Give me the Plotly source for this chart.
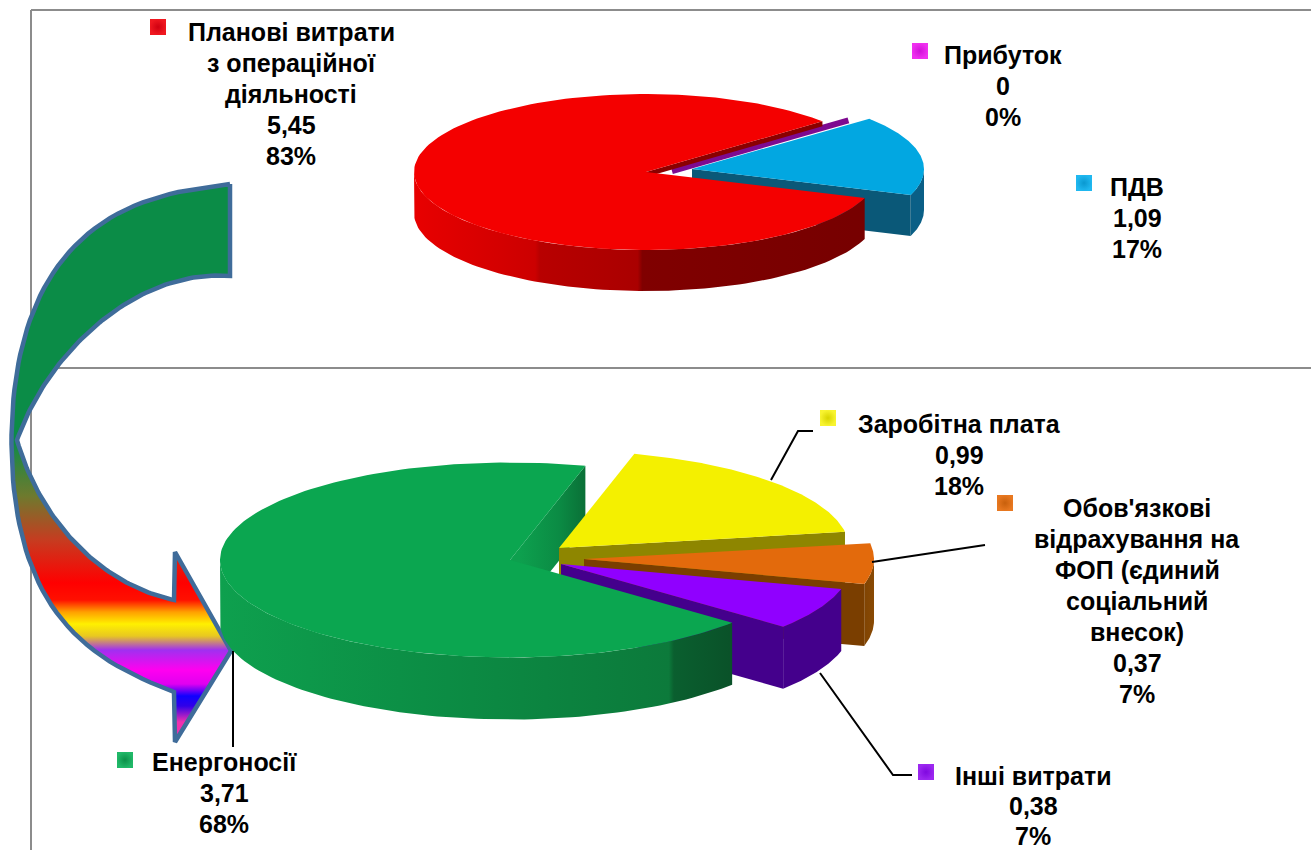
import numpy as np
import plotly.graph_objects as go

# Upper pie: structure of the tariff
top_names = ["Планові витрати<br>з операційної<br>діяльності", "Прибуток", "ПДВ"]
top_values = [5.45, 0, 1.09]

# Lower pie: structure of operating costs
low_names = ["Енергоносії", "Заробітна плата",
             "Обов'язкові<br>відрахування на<br>ФОП (єдиний<br>соціальний<br>внесок)",
             "Інші витрати"]
low_values = [3.71, 0.99, 0.37, 0.38]

WIDTH, HEIGHT = 1311, 850
FONT = "Liberation Sans"

fig = go.Figure()


def ellipse_point(c, rx, ry, deg):
    t = np.radians(deg)
    return c[0] + rx * np.cos(t), c[1] - ry * np.sin(t)


def arc(c, rx, ry, a, b, n=90):
    t = np.radians(np.linspace(a, b, n))
    return c[0] + rx * np.cos(t), c[1] - ry * np.sin(t)


def polygon(xs, ys, color=None, gradient=None, line=None):
    kw = dict(x=list(xs), y=list(ys), mode="lines", fill="toself",
              hoverinfo="skip", showlegend=False,
              line=line or dict(width=0, color="rgba(0,0,0,0)"))
    if gradient:
        kw["fillgradient"] = gradient
    else:
        kw["fillcolor"] = color
    fig.add_trace(go.Scatter(**kw))


def hgrad(x0, x1, stops):
    return dict(type="horizontal", start=x0, stop=x1, colorscale=stops)


def sweeps(values, start):
    """Clockwise (start, end) angles of each slice, with the start kept within (-180, 180]."""
    total = sum(values)
    out, a = [], start
    for v in values:
        b = a - v / total * 360
        shift = 360 if a <= -180 else 0
        out.append((a + shift, b + shift))
        a = b
    return out


def rim(c, rx, ry, depth, a, b, color=None, gradient=None):
    """Outer wall of a slice, limited to the part facing the viewer."""
    hi, lo = min(a, 0), max(b, -180)
    if hi <= lo:
        return
    xs, ys = arc(c, rx, ry, hi, lo)
    polygon(np.r_[xs, xs[::-1]], np.r_[ys, ys[::-1] + depth], color, gradient)


def cut_face(c, rx, ry, depth, angle, color=None, gradient=None):
    """Flat radial wall of a slice."""
    px, py = ellipse_point(c, rx, ry, angle)
    polygon([c[0], px, px, c[0]], [c[1], py, py + depth, c[1] + depth], color, gradient)


def top_face(c, rx, ry, a, b, color):
    xs, ys = arc(c, rx, ry, a, b, 160)
    polygon(np.r_[c[0], xs, c[0]], np.r_[c[1], ys, c[1]], color)


def smooth(points, degree=5, n=80):
    """Smooth polynomial curve through a run of guide points, parametrised by chord length."""
    p = np.array(points, float)
    s = np.r_[0, np.cumsum(np.hypot(*np.diff(p, axis=0).T))]
    s /= s[-1]
    deg = min(degree, len(p) - 1)
    weights = np.ones(len(p))
    weights[[0, -1]] = 8  # hold the ends on their guide points
    t = np.linspace(0, 1, n)
    return np.c_[np.polyval(np.polyfit(s, p[:, 0], deg, w=weights), t),
                 np.polyval(np.polyfit(s, p[:, 1], deg, w=weights), t)]


# Curved arrow linking the two pies
outer_curve = [(230, 184), (167, 194), (117, 216), (67, 253), (35, 305), (18, 366), (13, 440), (15, 500),
               (28, 561), (57, 613), (100, 653), (140, 679), (174, 692)]
inner_low = [(174, 600), (127, 583), (83, 550), (50, 513), (30, 474), (17, 440)]
inner_up = [(17, 440), (27, 413), (53, 374), (97, 324), (143, 294), (187, 279), (230, 276)]
head = [(174, 692), (175, 742), (231, 651), (175, 552), (174, 600)]
outline = np.vstack([smooth(outer_curve, 7), np.array(head[1:4], float),
                     smooth(inner_low, 3), smooth(inner_up, 4), [outer_curve[0]]])
y0, y1 = 183.0, 742.0
band = [(183, "#0B8C47"), (440, "#0B8C47"), (496, "#6E7A2E"), (540, "#C63C20"), (583, "#FF0000"),
        (600, "#FF1000"), (612, "#FFA000"), (624, "#FFF000"), (636, "#E8C820"), (650, "#A030F0"),
        (670, "#FF00F0"), (684, "#E000F0"), (696, "#1000FF"), (706, "#3000E8"), (722, "#F030B0"),
        (742, "#F030B0")]
polygon(outline[:, 0], outline[:, 1],
        gradient=dict(type="vertical", start=y0, stop=y1,
                      colorscale=[[(y - y0) / (y1 - y0), c] for y, c in band]),
        line=dict(width=4.5, color="#3F6C9A"))

# Upper pie
RX_T, RY_T, DEPTH_T = 232, 78, 41
red, violet, blue = sweeps(top_values, -19.5)
C_RED, C_VIOLET, C_BLUE = (646, 172), (672, 169), (692, 169)

rim(C_BLUE, RX_T, RY_T, DEPTH_T, *blue, color="#0A5F86")
cut_face(C_BLUE, RX_T, RY_T, DEPTH_T, blue[1], color="#0A5878")
top_face(C_BLUE, RX_T, RY_T, *blue, "#02A7E1")

# A zero share still leaves a thin stroke along its radius
vx, vy = ellipse_point(C_VIOLET, RX_T, RY_T, violet[0])
fig.add_trace(go.Scatter(x=[C_VIOLET[0], vx], y=[C_VIOLET[1] + 2, vy + 2], mode="lines",
                         line=dict(color="#7E0A90", width=6), hoverinfo="skip", showlegend=False))

cut_face(C_RED, RX_T, RY_T, 5, red[1], color="#8A0000")
rim(C_RED, RX_T, RY_T, DEPTH_T, *red,
    gradient=hgrad(414, 880, [[0, "#E80000"], [0.26, "#CC0000"], [0.27, "#B80000"], [0.48, "#AA0000"],
                              [0.49, "#800000"], [1, "#760000"]]))
top_face(C_RED, RX_T, RY_T, *red, "#F40000")

# Lower pie, each slice pulled out from the middle
RX_L, RY_L, DEPTH_L = 290, 97.5, 62
green, yellow, orange, purple = sweeps(low_values, -40)
C_GREEN, C_YELLOW, C_ORANGE, C_PURPLE = (510, 560), (559, 548), (584, 559), (561, 564)

cut_face(C_GREEN, RX_L, RY_L, DEPTH_L, green[1],
         gradient=hgrad(520, 585, [[0, "#0DA04E"], [0.6, "#0B8B44"], [1, "#0A7037"]]))

cut_face(C_YELLOW, RX_L, RY_L, DEPTH_L, yellow[1], color="#8E8600")
top_face(C_YELLOW, RX_L, RY_L, *yellow, "#F4F000")

rim(C_ORANGE, RX_L, RY_L, DEPTH_L, *orange,
    gradient=hgrad(845, 875, [[0, "#6E3A00"], [1, "#8A4A04"]]))
cut_face(C_ORANGE, RX_L, RY_L, DEPTH_L, orange[1], color="#7A3E00")
top_face(C_ORANGE, RX_L, RY_L, *orange, "#E36A0C")

rim(C_PURPLE, RX_L, RY_L, DEPTH_L, *purple, color="#44008C")
cut_face(C_PURPLE, RX_L, RY_L, DEPTH_L, purple[1], color="#44008C")
top_face(C_PURPLE, RX_L, RY_L, *purple, "#9000FF")

rim(C_GREEN, RX_L, RY_L, DEPTH_L, *green,
    gradient=hgrad(220, 730, [[0, "#0EA04E"], [0.35, "#0C9046"], [0.88, "#0C7A3B"], [0.89, "#0A5F2F"],
                              [1, "#0A5229"]]))
top_face(C_GREEN, RX_L, RY_L, *green, "#0BA650")

# Leader lines from slices to their labels
leaders = [([771, 798, 813], [480, 431, 431]),
           ([872, 985], [562, 545]),
           ([820, 893, 912], [673, 775, 775]),
           ([233, 233], [651, 747])]
for lx, ly in leaders:
    fig.add_trace(go.Scatter(x=lx, y=ly, mode="lines", line=dict(color="#000000", width=2),
                             hoverinfo="skip", showlegend=False))


def label_lines(name, value, total):
    shown = f"{value:g}".replace(".", ",")
    return name.split("<br>") + [shown, f"{round(value / total * 100)}%"]


top_total, low_total = sum(top_values), sum(low_values)
labels = [
    (label_lines(top_names[0], top_values[0], top_total), 291, 32, 31),
    (label_lines(top_names[1], top_values[1], top_total), 1003, 55, 31),
    (label_lines(top_names[2], top_values[2], top_total), 1137, 187, 31),
    (label_lines(low_names[0], low_values[0], low_total), 224, 762, 31),
    (label_lines(low_names[1], low_values[1], low_total), 959, 424, 31),
    (label_lines(low_names[2], low_values[2], low_total), 1137, 508, 31),
    (label_lines(low_names[3], low_values[3], low_total), 1033, 776, 30),
]
for lines, x, first_y, pitch in labels:
    for i, line in enumerate(lines):
        fig.add_annotation(x=x, y=first_y + i * pitch, text=f"<b>{line}</b>", showarrow=False,
                           xanchor="center", yanchor="middle", align="center",
                           font=dict(family=FONT, size=25, color="#000000"))

# Legend keys beside the labels
keys = [(158, 27, "#F01820", "#D00010"), (920, 51, "#F030F0", "#D010D8"), (1084, 183, "#20B8F0", "#0A98D0"),
        (125, 760, "#20B868", "#0A9048"), (828, 418, "#F8F430", "#D8D400"), (1005, 503, "#E87820", "#C8600C"),
        (926, 772, "#9C28F0", "#8008E0")]
for x, y, c, edge in keys:
    fig.add_trace(go.Scatter(x=[x], y=[y], mode="markers", hoverinfo="skip", showlegend=False,
                             marker=dict(symbol="square", size=16, color=c, line=dict(width=0),
                                         gradient=dict(type="radial", color=edge))))

frame = dict(type="line", xref="x", yref="y", layer="below", line=dict(color="#8C8C8C", width=2))
fig.update_layout(
    width=WIDTH, height=HEIGHT, margin=dict(l=0, r=0, t=0, b=0),
    paper_bgcolor="#FFFFFF", plot_bgcolor="#FFFFFF", showlegend=False,
    xaxis=dict(range=[0, WIDTH], visible=False, fixedrange=True),
    yaxis=dict(range=[HEIGHT, 0], visible=False, fixedrange=True),
    shapes=[dict(frame, x0=31, x1=WIDTH, y0=10, y1=10),
            dict(frame, x0=31, x1=31, y0=10, y1=HEIGHT),
            dict(frame, x0=31, x1=WIDTH, y0=368, y1=368)],
)
fig.write_html("out.html")
